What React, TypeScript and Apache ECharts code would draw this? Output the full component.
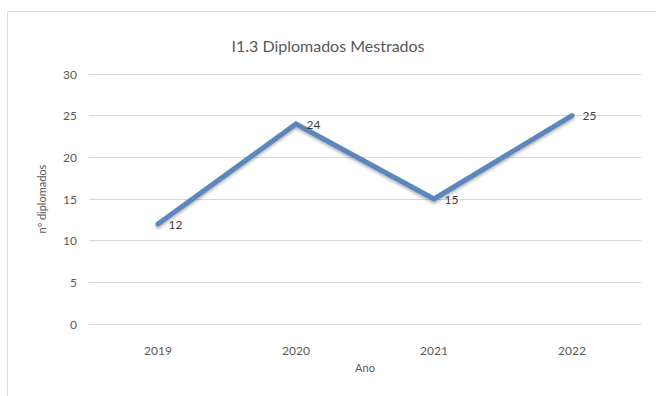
import React, { useEffect, useRef } from "react";
import * as echarts from "echarts";

const categories = ["2019", "2020", "2021", "2022"];
const values = [12, 24, 15, 25];
const titleText = "I1.3 Diplomados Mestrados";
const xName = "Ano";
const yName = "nº diplomados";

export default function App() {
  const ref = useRef<HTMLDivElement>(null);
  useEffect(() => {
    if (!ref.current) return;
    const chart = echarts.init(ref.current, undefined, { renderer: "svg" });
    const font = "Lato, 'Open Sans', sans-serif";
    chart.setOption({
      animation: false,
      backgroundColor: "#ffffff",
      textStyle: { fontFamily: font },
      title: {
        text: titleText,
        left: "center",
        top: 32,
        textStyle: { fontFamily: font, fontSize: 16, fontWeight: "normal", color: "#595959" },
      },
      graphic: [
        {
          type: "rect",
          shape: { x: 7.5, y: 11.5, width: 660, height: 400 },
          style: { fill: "none", stroke: "#d9d9d9", lineWidth: 1 },
          silent: true,
        },
      ],
      grid: { left: 89, right: 15, top: 74, bottom: 72, containLabel: false },
      xAxis: {
        type: "category",
        data: categories,
        name: xName,
        nameLocation: "middle",
        nameGap: 38,
        nameTextStyle: { color: "#595959", fontSize: 11, fontFamily: font },
        axisLine: { lineStyle: { color: "#d9d9d9" } },
        axisTick: { show: false },
        axisLabel: { color: "#595959", fontSize: 12, margin: 20, fontFamily: font },
      },
      yAxis: {
        type: "value",
        min: 0,
        max: 30,
        interval: 5,
        name: yName,
        nameLocation: "middle",
        nameGap: 42,
        nameTextStyle: { color: "#595959", fontSize: 11, fontFamily: font },
        axisLine: { show: false },
        axisTick: { show: false },
        axisLabel: { color: "#595959", fontSize: 12, margin: 12, fontFamily: font },
        splitLine: { lineStyle: { color: "#d9d9d9", width: 1 } },
      },
      series: [
        {
          type: "line",
          data: values,
          symbol: "circle",
          symbolSize: 1,
          showSymbol: true,
          itemStyle: { color: "#5b87bd" },
          lineStyle: {
            color: "#5b87bd",
            width: 5,
            shadowColor: "rgba(0,0,0,0.3)",
            shadowBlur: 3,
            shadowOffsetY: 2,
            cap: "round",
            join: "miter",
          },
          label: {
            show: true,
            position: "right",
            distance: 10,
            color: "#404040",
            fontSize: 12,
            fontFamily: font,
          },
        },
      ],
    });
    return () => chart.dispose();
  }, []);
  return (
    <div
      ref={ref}
      style={{ position: "fixed", left: 0, top: 0, width: 656, height: 396 }}
    />
  );
}
